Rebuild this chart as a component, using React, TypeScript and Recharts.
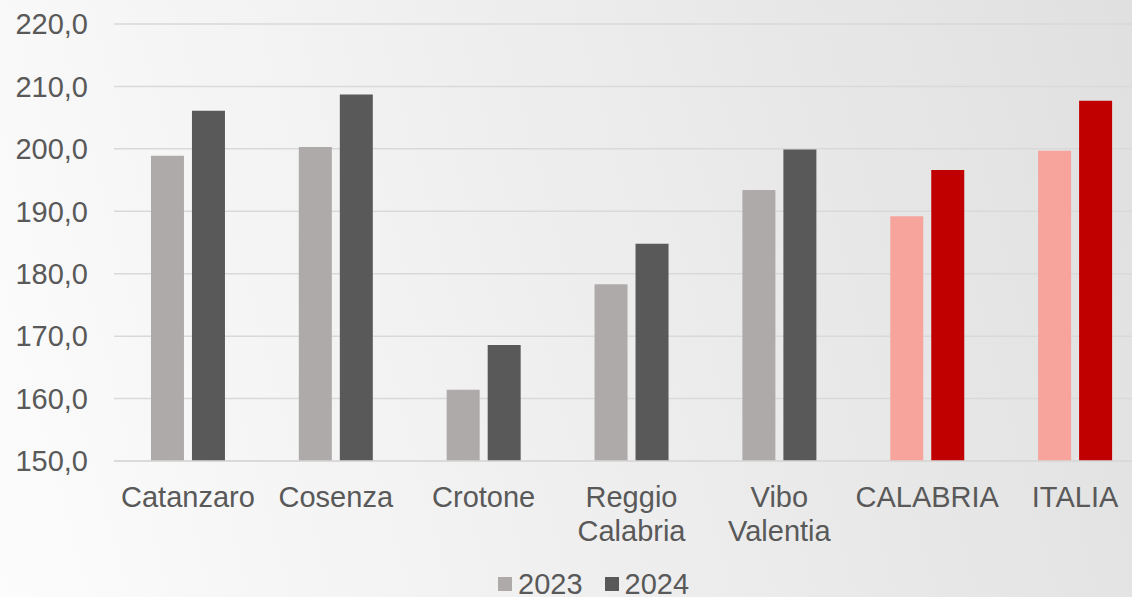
import { BarChart, Bar, XAxis, YAxis, CartesianGrid, Legend, Cell } from "recharts";

const categories = [
  "Catanzaro",
  "Cosenza",
  "Crotone",
  "Reggio Calabria",
  "Vibo Valentia",
  "CALABRIA",
  "ITALIA",
];
const values2023 = [198.9, 200.3, 161.4, 178.3, 193.4, 189.2, 199.7];
const values2024 = [206.1, 208.7, 168.6, 184.8, 199.9, 196.6, 207.7];
const yTicks = [150, 160, 170, 180, 190, 200, 210, 220];
const highlighted = ["CALABRIA", "ITALIA"];

const data = categories.map((name, i) => ({
  name,
  y2023: values2023[i],
  y2024: values2024[i],
}));

const FONT = '"Liberation Sans", Arial, sans-serif';
const TEXT = "#595959";
const GREY_2023 = "#AEAAAA";
const GREY_2024 = "#595959";
const RED_2023 = "#F6A49C";
const RED_2024 = "#C00000";

function CategoryTick(props: any) {
  const { x, y, payload } = props;
  const words = String(payload.value).split(" ");
  return (
    <text x={x} y={y} textAnchor="middle" fill={TEXT} fontSize={29} fontFamily={FONT}>
      {words.map((w, i) => (
        <tspan key={i} x={x} y={y + 44 + i * 33.5}>
          {w}
        </tspan>
      ))}
    </text>
  );
}

function LegendContent() {
  const items = [
    { label: "2023", color: GREY_2023 },
    { label: "2024", color: GREY_2024 },
  ];
  return (
    <div
      style={{
        height: 27,
        lineHeight: "28px",
        paddingLeft: 498,
        display: "flex",
        fontFamily: FONT,
        fontSize: 29,
        color: TEXT,
        overflow: "visible",
      }}
    >
      {items.map((it) => (
        <div key={it.label} style={{ display: "flex", alignItems: "center", marginRight: 22, height: 28 }}>
          <span style={{ width: 14, height: 14, background: it.color, marginRight: 6, display: "inline-block" }} />
          <span>{it.label}</span>
        </div>
      ))}
    </div>
  );
}

export default function App() {
  return (
    <div
      style={{
        position: "absolute",
        left: 0,
        top: 0,
        width: 1132,
        height: 597,
        overflow: "hidden",
        background: "linear-gradient(75deg, #fcfcfc 0%, #eeeeee 50%, #e0e0e0 100%)",
      }}
    >
      <BarChart
        width={1149}
        height={597}
        data={data}
        margin={{ top: 24, right: 0, left: 0, bottom: 0 }}
        barCategoryGap="25%"
        barGap={8}
      >
        <CartesianGrid vertical={false} stroke="#d9d9d9" strokeWidth={1.5} />
        <XAxis
          dataKey="name"
          interval={0}
          height={109}
          tickLine={false}
          tickSize={0}
          axisLine={{ stroke: "#d9d9d9", strokeWidth: 1.5 }}
          tick={<CategoryTick />}
        />
        <YAxis
          domain={[150, 220]}
          ticks={yTicks}
          width={114}
          axisLine={false}
          tickLine={false}
          tickSize={0}
          tickMargin={26}
          tick={{ fontSize: 29, fontFamily: FONT, fill: TEXT }}
          tickFormatter={(v) => v.toFixed(1).replace(".", ",")}
        />
        <Legend verticalAlign="bottom" content={<LegendContent />} />
        <Bar dataKey="y2023" name="2023" fill={GREY_2023} isAnimationActive={false}>
          {data.map((d) => (
            <Cell key={d.name} fill={highlighted.includes(d.name) ? RED_2023 : GREY_2023} />
          ))}
        </Bar>
        <Bar dataKey="y2024" name="2024" fill={GREY_2024} isAnimationActive={false}>
          {data.map((d) => (
            <Cell key={d.name} fill={highlighted.includes(d.name) ? RED_2024 : GREY_2024} />
          ))}
        </Bar>
      </BarChart>
    </div>
  );
}
